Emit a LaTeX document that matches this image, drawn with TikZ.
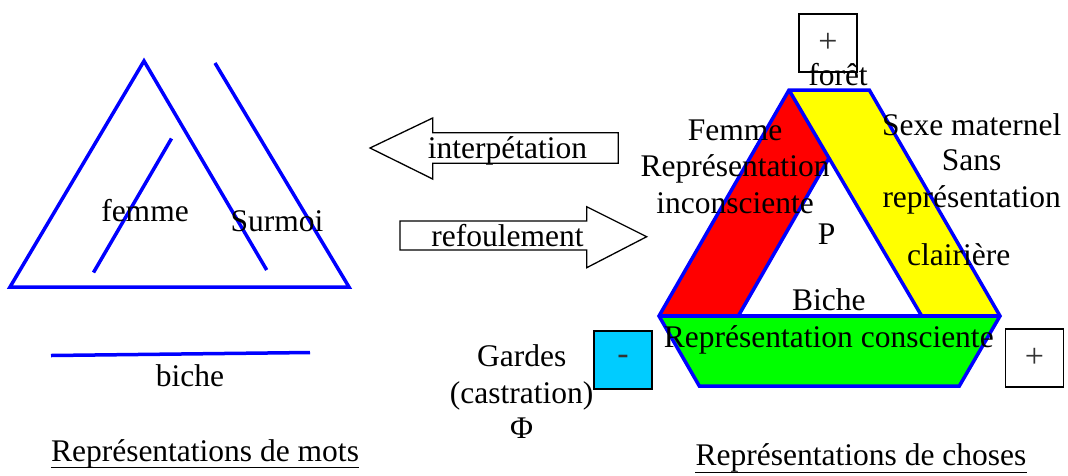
\documentclass[tikz,border=0pt]{standalone}
\usepackage{fontspec}
\setmainfont{Liberation Serif}
\definecolor{pblue}{RGB}{0,0,255}
\definecolor{pred}{RGB}{255,0,0}
\definecolor{pyellow}{RGB}{255,255,0}
\definecolor{pgreen}{RGB}{0,255,0}
\definecolor{pcyan}{RGB}{0,204,255}
\begin{document}
\begin{tikzpicture}[x=1pt,y=-1pt,
  txt/.style={font=\fontsize{31.5}{37.5}\selectfont, inner sep=0pt, anchor=base},
  bl/.style={draw=pblue, line width=3.5pt},
  sign/.style={draw=black, line width=1.5pt, minimum width=58pt, minimum height=58pt, inner sep=0pt, font=\fontsize{34}{36}\selectfont, text=black!80},
  arr/.style={draw=black, line width=1.3pt, line join=miter},
  uline/.style={draw=black, line width=1.3pt}]
\useasboundingbox (0,0) rectangle (1068,475);

% ---------- left: word representations ----------
\coordinate (LA) at (144,61);
\coordinate (LB) at (10,287);
\coordinate (LC) at (349,287);
\coordinate (S1) at (215,63);
\coordinate (S2) at (266.7,270);
\draw[bl] (S2)--(LA)--(LB)--(LC)--(S1);
\coordinate (F1) at (171.5,138.5);
\coordinate (F2) at (93.5,272.5);
\draw[bl] (F1)--(F2);
\coordinate (B1) at (51,355.5);
\coordinate (B2) at (310,352.5);
\draw[bl] (B1)--(B2);

\node[txt] (femme) at (145,221.7) {femme};
\node[txt] (surmoi) at (277,231.7) {Surmoi};
\node[txt] (biche) at (190,386.7) {biche};
\node[txt] (mots) at (205,461) {Représentations de mots};
\draw[uline] ([yshift=-6.7pt]mots.base west) -- ([yshift=-6.7pt]mots.base east);

% ---------- arrows ----------
\coordinate (I1) at (370,148);
\coordinate (I2) at (432.7,118);
\coordinate (I3) at (432.7,132.7);
\coordinate (I4) at (618.3,132.7);
\coordinate (I5) at (618.3,163.3);
\coordinate (I6) at (432.7,163.3);
\coordinate (I7) at (432.7,179);
\draw[arr] (I1)--(I2)--(I3)--(I4)--(I5)--(I6)--(I7)--cycle;
\node[txt] (interp) at (507.5,158.3) {interpétation};

\coordinate (R1) at (646.7,236.7);
\coordinate (R2) at (586.7,206.7);
\coordinate (R3) at (586.7,221);
\coordinate (R4) at (400,221);
\coordinate (R5) at (400,250);
\coordinate (R6) at (586.7,250);
\coordinate (R7) at (586.7,267.7);
\draw[arr] (R1)--(R2)--(R3)--(R4)--(R5)--(R6)--(R7)--cycle;
\node[txt] (refoul) at (507.5,246.7) {refoulement};

% ---------- right: thing representations ----------
\coordinate (TL) at (789,90);
\coordinate (TR) at (869.3,90);
\coordinate (BL) at (659,316);
\coordinate (BR) at (1000,316);
\coordinate (RI) at (738.3,316);
\coordinate (YI) at (921.7,316);
\coordinate (IT) at (829,158);
\coordinate (GBL) at (699.3,386);
\coordinate (GBR) at (959.3,386);
\fill[pred] (BL)--(TL)--(IT)--(RI)--cycle;
\fill[pyellow] (TL)--(TR)--(BR)--(YI)--cycle;
\fill[pgreen] (BL)--(BR)--(GBR)--(GBL)--cycle;
\draw[bl] (BL)--(TL)--(TR)--(BR)--(GBR)--(GBL)--cycle;
\draw[bl] (TL)--(YI);
\draw[bl] (IT)--(RI);
\draw[bl] (BL)--(BR);

\node[sign] (plustop) at (828,42.9) {+};
\node[sign] (plusright) at (1034.5,358) {+};
\node[sign, fill=pcyan] (minus) at (623,359.8) {-};

\node[txt] (foret) at (838,85) {forêt};
\node[txt] (femmeR) at (735,140.7) {Femme};
\node[txt] (repi) at (735,176.7) {Représentation};
\node[txt] (incons) at (735,213.3) {inconsciente};
\node[txt] (sexe) at (971.7,135) {Sexe maternel};
\node[txt] (sans) at (971.7,170.7) {Sans};
\node[txt] (reps) at (971.7,207.3) {représentation};
\node[txt] (clair) at (958.7,265.7) {clairière};
\node[txt] (P) at (826.7,244) {P};
\node[txt] (bicheR) at (828.8,310) {Biche};
\node[txt] (repc) at (828.8,347.3) {Représentation consciente};

\node[txt] (gardes) at (521.7,366.7) {Gardes};
\node[txt] (castr) at (521.7,403.3) {(castration)};
\node[txt] (phi) at (521.7,438.3) {Φ};

\node[txt] (choses) at (861,465) {Représentations de choses};
\draw[uline] ([yshift=-7.5pt]choses.base west) -- ([yshift=-7.5pt]choses.base east);
\end{tikzpicture}
\end{document}
